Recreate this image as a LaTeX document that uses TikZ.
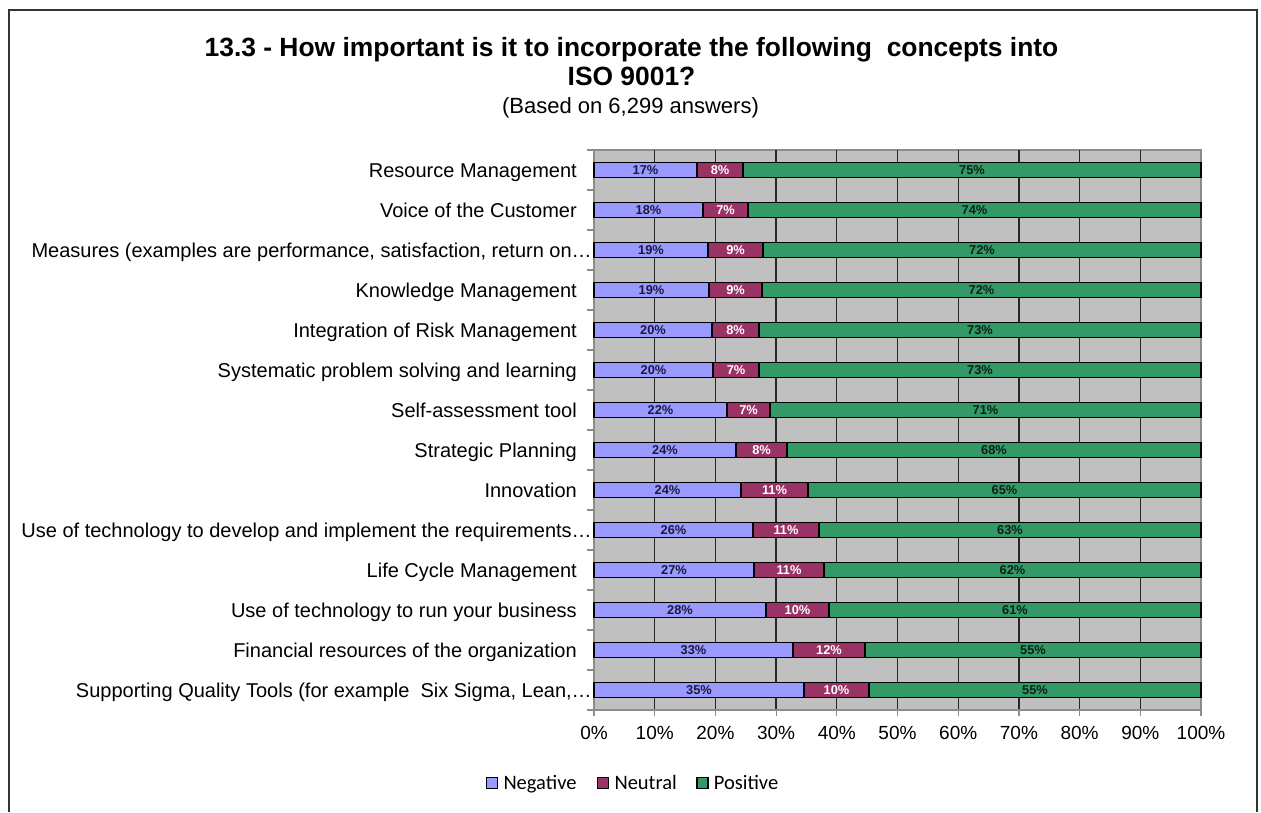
\documentclass[tikz,border=0pt]{standalone}
\usepackage{fontspec}
\setmainfont{Liberation Sans}
\newfontfamily\legendfont{Carlito}
\usetikzlibrary{positioning}
\definecolor{negcol}{HTML}{9999FF}
\definecolor{neucol}{HTML}{993366}
\definecolor{poscol}{HTML}{339966}
\definecolor{neglabel}{HTML}{1A1A40}
\definecolor{poslabel}{HTML}{0F2018}
\definecolor{chartgray}{HTML}{C0C0C0}
\definecolor{axisgray}{HTML}{8C8C8C}
\tikzset{
    frame/.style = {draw=black!80, line width=1.5pt},
    plotarea/.style = {fill=chartgray, draw=axisgray, line width=1.2pt},
    gridline/.style = {draw=black!85, line width=1.3pt},
    axisline/.style = {draw=axisgray, line width=1.2pt},
    segment/.style = {rectangle, draw=black, line width=1.8pt, minimum height=15pt, inner sep=0pt, outer sep=0pt, font=\fontsize{12.8}{14}\selectfont\bfseries},
    negbar/.style = {segment, fill=negcol, text=neglabel},
    neubar/.style = {segment, fill=neucol, text=white},
    posbar/.style = {segment, fill=poscol, text=poslabel},
    catlabel/.style = {anchor=base east, inner sep=0pt, font=\fontsize{20}{24}\selectfont},
    ticklabel/.style = {anchor=base, inner sep=0pt, font=\fontsize{19}{22}\selectfont},
    titletext/.style = {anchor=base, inner sep=0pt, font=\fontsize{26.4}{30}\selectfont\bfseries},
    subtitletext/.style = {anchor=base, inner sep=0pt, font=\fontsize{22}{26}\selectfont},
    legendbox/.style = {rectangle, draw=black, line width=1.6pt, minimum size=11pt, inner sep=0pt},
    legendtext/.style = {inner sep=0pt, text height=17pt, text depth=4pt, font=\legendfont\fontsize{20.5}{24}\selectfont}
}
\begin{document}
\begin{tikzpicture}[x=1pt,y=-1pt]
\useasboundingbox (0,0) rectangle (1261,812);
\draw[frame] (9,812) -- (9,10) -- (1257,10) -- (1257,812);
%
\node[titletext] at (631.5,56) (title) {13.3 - How important is it to incorporate the following\ \ concepts into};
\node[titletext] at (631.5,85) (title2) {ISO 9001?};
\node[subtitletext] at (630.5,113) (subtitle) {(Based on 6,299 answers)};
%
\draw[plotarea] (594,150) rectangle (1201,710);
\foreach \k in {1,...,9}
  \draw[gridline] ({594+60.7*\k},150) -- ({594+60.7*\k},710);
\draw[axisline] (594,150) -- (594,710) -- (1201,710);
\foreach \k in {0,...,14}
  \draw[axisline] (587,{150+40*\k}) -- (594,{150+40*\k});
\foreach \k in {0,...,10}
  \draw[axisline] ({594+60.7*\k},710) -- ({594+60.7*\k},716);
\foreach \k [evaluate=\k as \v using int(10*\k)] in {0,...,10}
  \node[ticklabel] at ({594+60.7*\k},739) (t\k) {\v\%};
%
\node[catlabel] at (577,177) (cat1) {Resource Management};
\node[catlabel] at (577,217) (cat2) {Voice of the Customer};
\node[catlabel] at (592,257) (cat3) {Measures (examples are performance, satisfaction, return on…};
\node[catlabel] at (577,297) (cat4) {Knowledge Management};
\node[catlabel] at (577,337) (cat5) {Integration of Risk Management};
\node[catlabel] at (577,377) (cat6) {Systematic problem solving and learning};
\node[catlabel] at (577,417) (cat7) {Self-assessment tool};
\node[catlabel] at (577,457) (cat8) {Strategic Planning};
\node[catlabel] at (577,497) (cat9) {Innovation};
\node[catlabel] at (592,537) (cat10) {Use of technology to develop and implement the requirements…};
\node[catlabel] at (577,577) (cat11) {Life Cycle Management};
\node[catlabel] at (577,617) (cat12) {Use of technology to run your business};
\node[catlabel] at (577,657) (cat13) {Financial resources of the organization};
\node[catlabel] at (592,697) (cat14) {Supporting Quality Tools (for example\ \ Six Sigma, Lean,…};
%
\node[negbar, minimum width=103pt] at (645.5,170) (neg1) {17\%};
\node[neubar, minimum width=46pt] at (720,170) (neu1) {8\%};
\node[posbar, minimum width=458pt] at (972,170) (pos1) {75\%};
\node[negbar, minimum width=109pt] at (648.5,210) (neg2) {18\%};
\node[neubar, minimum width=45pt] at (725.5,210) (neu2) {7\%};
\node[posbar, minimum width=453pt] at (974.5,210) (pos2) {74\%};
\node[negbar, minimum width=114pt] at (651,250) (neg3) {19\%};
\node[neubar, minimum width=55pt] at (735.5,250) (neu3) {9\%};
\node[posbar, minimum width=438pt] at (982,250) (pos3) {72\%};
\node[negbar, minimum width=115pt] at (651.5,290) (neg4) {19\%};
\node[neubar, minimum width=53pt] at (735.5,290) (neu4) {9\%};
\node[posbar, minimum width=439pt] at (981.5,290) (pos4) {72\%};
\node[negbar, minimum width=118pt] at (653,330) (neg5) {20\%};
\node[neubar, minimum width=47pt] at (735.5,330) (neu5) {8\%};
\node[posbar, minimum width=442pt] at (980,330) (pos5) {73\%};
\node[negbar, minimum width=119pt] at (653.5,370) (neg6) {20\%};
\node[neubar, minimum width=46pt] at (736,370) (neu6) {7\%};
\node[posbar, minimum width=442pt] at (980,370) (pos6) {73\%};
\node[negbar, minimum width=133pt] at (660.5,410) (neg7) {22\%};
\node[neubar, minimum width=43pt] at (748.5,410) (neu7) {7\%};
\node[posbar, minimum width=431pt] at (985.5,410) (pos7) {71\%};
\node[negbar, minimum width=142pt] at (665,450) (neg8) {24\%};
\node[neubar, minimum width=51pt] at (761.5,450) (neu8) {8\%};
\node[posbar, minimum width=414pt] at (994,450) (pos8) {68\%};
\node[negbar, minimum width=147pt] at (667.5,490) (neg9) {24\%};
\node[neubar, minimum width=67pt] at (774.5,490) (neu9) {11\%};
\node[posbar, minimum width=393pt] at (1004.5,490) (pos9) {65\%};
\node[negbar, minimum width=159pt] at (673.5,530) (neg10) {26\%};
\node[neubar, minimum width=66pt] at (786,530) (neu10) {11\%};
\node[posbar, minimum width=382pt] at (1010,530) (pos10) {63\%};
\node[negbar, minimum width=160pt] at (674,570) (neg11) {27\%};
\node[neubar, minimum width=70pt] at (789,570) (neu11) {11\%};
\node[posbar, minimum width=377pt] at (1012.5,570) (pos11) {62\%};
\node[negbar, minimum width=172pt] at (680,610) (neg12) {28\%};
\node[neubar, minimum width=63pt] at (797.5,610) (neu12) {10\%};
\node[posbar, minimum width=372pt] at (1015,610) (pos12) {61\%};
\node[negbar, minimum width=199pt] at (693.5,650) (neg13) {33\%};
\node[neubar, minimum width=72pt] at (829,650) (neu13) {12\%};
\node[posbar, minimum width=336pt] at (1033,650) (pos13) {55\%};
\node[negbar, minimum width=210pt] at (699,690) (neg14) {35\%};
\node[neubar, minimum width=65pt] at (836.5,690) (neu14) {10\%};
\node[posbar, minimum width=332pt] at (1035,690) (pos14) {55\%};
%
\node[legendbox, fill=negcol] at (492,783) (lneg) {};
\node[legendtext, right=5pt of lneg] (tneg) {Negative};
\node[legendbox, fill=neucol, right=20pt of tneg] (lneu) {};
\node[legendtext, right=5pt of lneu] (tneu) {Neutral};
\node[legendbox, fill=poscol, right=19pt of tneu] (lpos) {};
\node[legendtext, right=5pt of lpos] (tpos) {Positive};
\end{tikzpicture}
\end{document}
